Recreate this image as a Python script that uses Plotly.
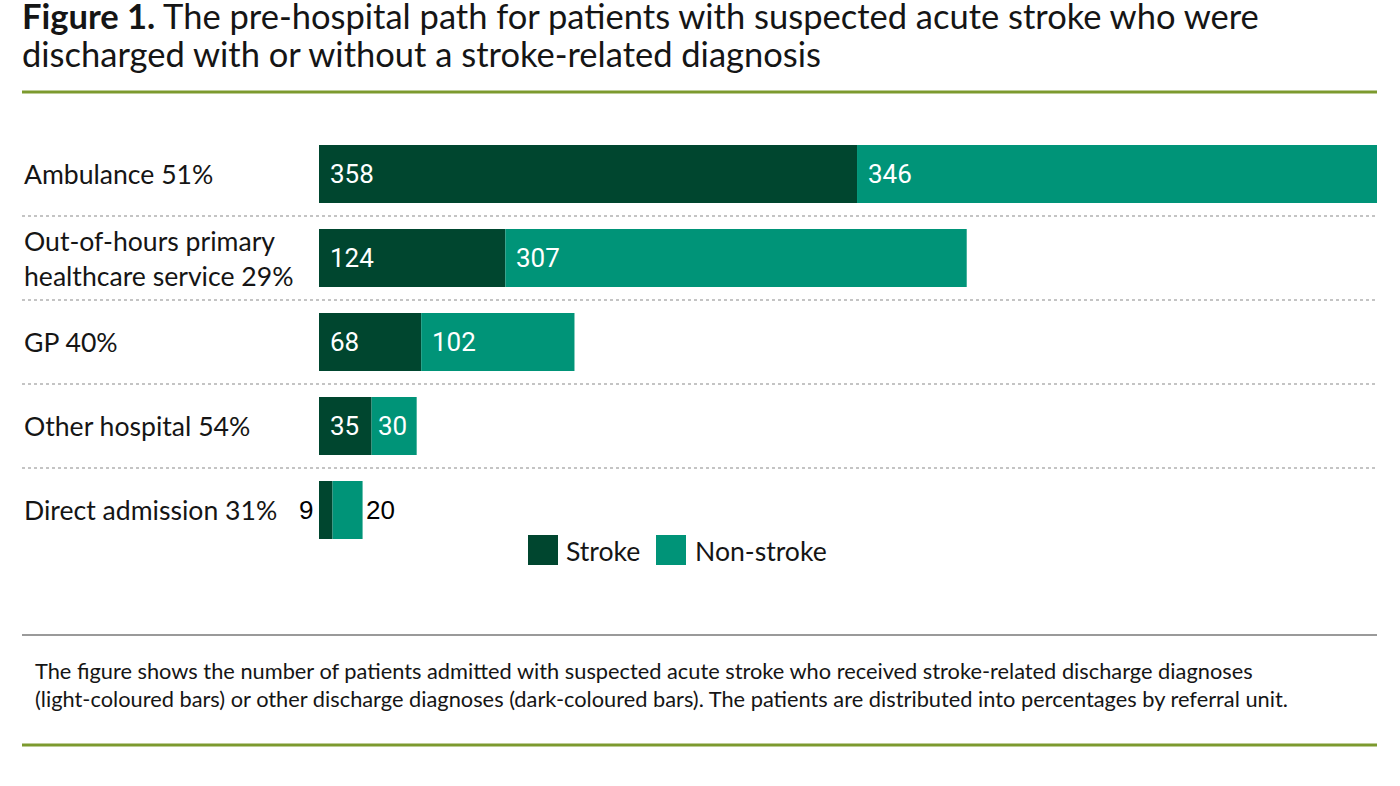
import plotly.graph_objects as go

categories = ["Ambulance 51%", "Out-of-hours primary<br>healthcare service 29%", "GP 40%",
              "Other hospital 54%", "Direct admission 31%"]
stroke = [358, 124, 68, 35, 9]
non_stroke = [346, 307, 102, 30, 20]
series_names = ["Stroke", "Non-stroke"]
title_lines = ["<b>Figure 1.</b> The pre-hospital path for patients with suspected acute stroke who were",
               "discharged with or without a stroke-related diagnosis"]
note_text = ("The figure shows the number of patients admitted with suspected acute stroke who received stroke-related discharge diagnoses<br>"
             "(light-coloured bars) or other discharge diagnoses (dark-coloured bars). The patients are distributed into percentages by referral unit.")

W, H = 1400, 786
DARK = "#00462f"
TEAL = "#009478"
GREEN_RULE = "#7c9a2e"
TEXT = "#151515"

def px(x):
    return x / W

def py(y):
    return 1 - y / H

ids = list(range(len(categories)))

fig = go.Figure()
fig.add_trace(go.Bar(y=ids, x=stroke, orientation="h", name=series_names[0],
                     marker=dict(color=DARK, line=dict(width=0)), showlegend=False,
                     hoverinfo="x"))
fig.add_trace(go.Bar(y=ids, x=non_stroke, orientation="h", name=series_names[1],
                     base=stroke,
                     marker=dict(color=TEAL, line=dict(width=0)), showlegend=False,
                     hoverinfo="x"))

annotations = []
label_font = dict(family="Roboto", size=26, color="white")
small_font = dict(family="Liberation Sans", size=26, color="black")
for i, (s, n) in enumerate(zip(stroke, non_stroke)):
    if i == len(categories) - 1:
        annotations.append(dict(x=0, y=i, xref="x", yref="y", text=str(s), showarrow=False,
                                xanchor="right", yanchor="middle", xshift=-4, font=small_font))
        annotations.append(dict(x=s + n, y=i, xref="x", yref="y", text=str(n), showarrow=False,
                                xanchor="left", yanchor="middle", xshift=1, font=small_font))
    else:
        annotations.append(dict(x=0, y=i, xref="x", yref="y", text=str(s), showarrow=False,
                                xanchor="left", yanchor="middle", xshift=9, font=label_font))
        annotations.append(dict(x=s, y=i, xref="x", yref="y", text=str(n), showarrow=False,
                                xanchor="left", yanchor="middle", xshift=4 if n < 50 else 9,
                                font=label_font))
    annotations.append(dict(x=px(22), y=i, xref="paper", yref="y", text=categories[i],
                            showarrow=False, xanchor="left", yanchor="middle", align="left",
                            font=dict(family="Lato", size=26.6, color=TEXT)))

# Title (two lines)
for yc, line in zip([16, 53], title_lines):
    annotations.append(dict(x=px(20), y=py(yc), xref="paper", yref="paper", xanchor="left",
                            yanchor="middle", align="left", showarrow=False, text=line,
                            font=dict(family="Lato", size=34.5, color=TEXT)))
# Footer note
annotations.append(dict(x=px(33), y=py(684), xref="paper", yref="paper", xanchor="left",
                        yanchor="middle", align="left", showarrow=False, text=note_text,
                        font=dict(family="Lato", size=21.8, color=TEXT)))
# Legend labels
annotations.append(dict(x=px(564), y=py(551), xref="paper", yref="paper", xanchor="left",
                        yanchor="middle", showarrow=False, text=series_names[0],
                        font=dict(family="Lato", size=26.6, color=TEXT)))
annotations.append(dict(x=px(693), y=py(551), xref="paper", yref="paper", xanchor="left",
                        yanchor="middle", showarrow=False, text=series_names[1],
                        font=dict(family="Lato", size=26.6, color=TEXT)))

shapes = []
# dotted separators between rows
for k in range(len(categories) - 1):
    shapes.append(dict(type="line", xref="paper", yref="y", x0=px(22), x1=px(1377),
                       y0=k + 0.5, y1=k + 0.5, line=dict(color="#c4c4c4", width=2, dash="dot")))
# horizontal rules
shapes.append(dict(type="line", xref="paper", yref="paper", x0=px(22), x1=px(1377),
                   y0=py(92), y1=py(92), line=dict(color=GREEN_RULE, width=3)))
shapes.append(dict(type="line", xref="paper", yref="paper", x0=px(22), x1=px(1377),
                   y0=py(635), y1=py(635), line=dict(color="#9a9a9a", width=2)))
shapes.append(dict(type="line", xref="paper", yref="paper", x0=px(22), x1=px(1377),
                   y0=py(745), y1=py(745), line=dict(color=GREEN_RULE, width=3)))
# legend squares
shapes.append(dict(type="rect", xref="paper", yref="paper", x0=px(528), x1=px(558),
                   y0=py(565), y1=py(535), fillcolor=DARK, line=dict(width=0)))
shapes.append(dict(type="rect", xref="paper", yref="paper", x0=px(656), x1=px(686),
                   y0=py(565), y1=py(535), fillcolor=TEAL, line=dict(width=0)))

fig.update_layout(
    width=W, height=H,
    margin=dict(l=0, r=0, t=0, b=0),
    paper_bgcolor="white", plot_bgcolor="white",
    barmode="overlay", bargap=0.31,
    xaxis=dict(domain=[px(319), px(1377)], range=[0, stroke[0] + non_stroke[0]],
               visible=False, fixedrange=True),
    yaxis=dict(domain=[py(552), py(132)], range=[len(categories) - 0.5, -0.5],
               visible=False, fixedrange=True),
    annotations=annotations,
    shapes=shapes,
    showlegend=False,
)

fig.write_html("out.html", config={"displayModeBar": False},
               post_script="document.body.style.margin='0';document.body.style.overflow='hidden';")
